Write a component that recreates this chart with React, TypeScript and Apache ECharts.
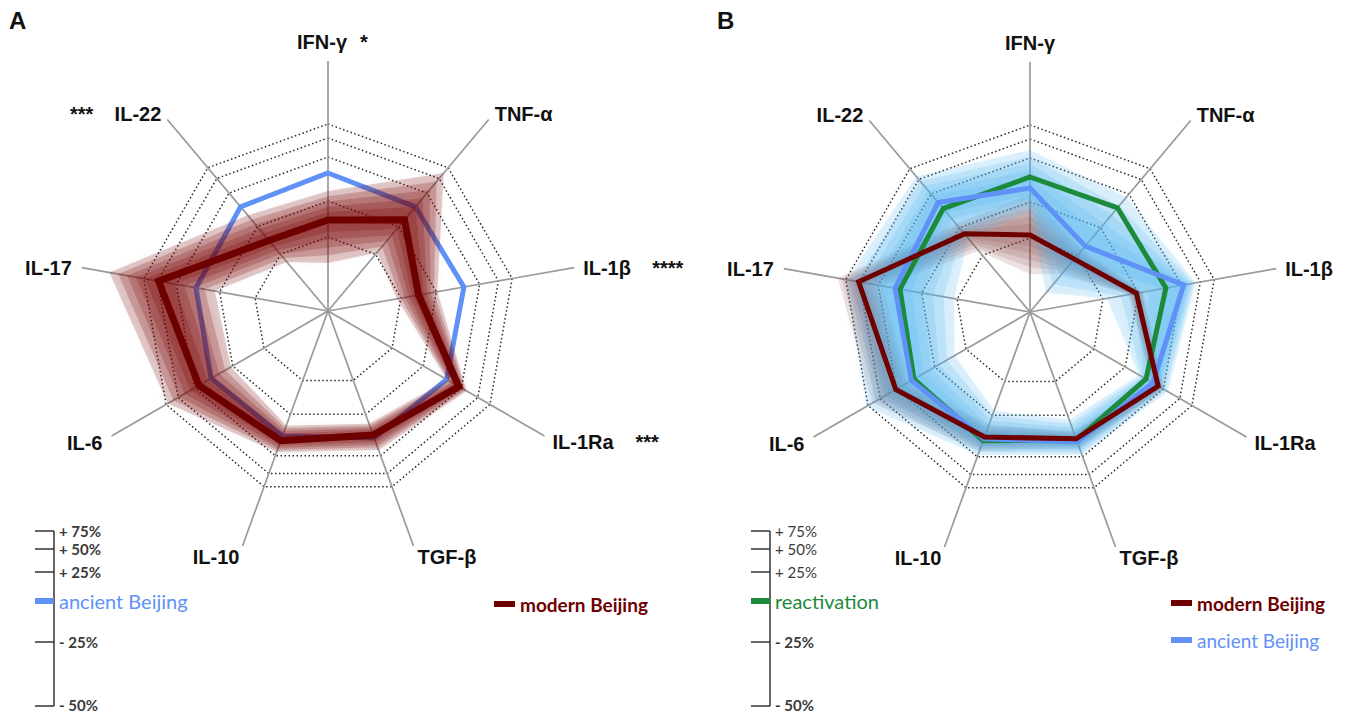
import React, { useEffect, useRef } from 'react';
import * as echarts from 'echarts';

// ---------- data ----------
const categories = ['IFN-γ', 'TNF-α', 'IL-1β', 'IL-1Ra', 'TGF-β', 'IL-10', 'IL-6', 'IL-17', 'IL-22'];
const significanceA = ['*', '', '****', '***', '', '', '', '', '***'];
const ringLevels = [74, 110, 154, 173, 187];
const axisMax = 250;

// Panel A (radial position)
const ancientA = [138, 136, 138, 137, 135, 133, 135, 134, 136];
const modernA = [91, 119, 92, 151, 132, 138, 149, 172, 92];
const modernAUpper = [120, 180, 111, 160, 148, 150, 185, 222, 125];
const modernALower = [48, 76, 70, 138, 120, 122, 112, 115, 64];

// Panel B
const reactivationB = [135, 136, 138, 134, 136, 137, 134, 132, 135];
const ancientB = [124, 86, 156, 142, 138, 135, 137, 137, 143];
const modernB = [77, 69, 108, 148, 135, 133, 155, 174, 102];
const ancientBUpper = [162, 150, 168, 159, 152, 152, 189, 186, 177];
const ancientBLower = [100, 25, 78, 126, 115, 105, 87, 77, 96];
const modernBUpper = [118, 82, 115, 155, 145, 148, 182, 195, 115];
const modernBLower = [38, 50, 100, 140, 127, 120, 140, 150, 80];

const scaleTicks = ['+ 75%', '+ 50%', '+ 25%', '- 25%', '- 50%'];

// ---------- style ----------
const RED = '#6e0000';
const BLUE = '#5f91f7';
const GREEN = '#1b8a3a';
const LABEL_FONT = 'bold 20px "Liberation Sans", Arial, sans-serif';
const N = categories.length;
const angles = categories.map((_, i) => (i * 360) / N);

// label offsets relative to axis end: [dx, dy, align]
const labelOffsets: [number, number, string][] = [
  [0, -19, 'center'],
  [6, -5, 'left'],
  [9, 0, 'left'],
  [8, 6, 'left'],
  [4, 11, 'left'],
  [-3, 11, 'right'],
  [-9, 7, 'right'],
  [-10, 0, 'right'],
  [-6, -5, 'right'],
];
const starOffsets: [number, number, string][] = [
  [32, -19, 'left'],
  [0, 0, 'left'],
  [78, 0, 'left'],
  [91, 6, 'left'],
  [0, 0, 'left'],
  [0, 0, 'left'],
  [0, 0, 'left'],
  [0, 0, 'left'],
  [-74, -5, 'right'],
];

const ringRender = (_p: any, api: any) => ({
  type: 'polygon',
  silent: true,
  shape: { points: angles.map((a) => api.coord([api.value(0), a])) },
  style: { fill: 'none', stroke: '#2a2a2a', lineWidth: 1.5, lineDash: [1.5, 2.5] },
});

const spokeRender = (_p: any, api: any) => {
  const a = api.value(1);
  const p0 = api.coord([0, a]);
  const p1 = api.coord([api.value(0), a]);
  return {
    type: 'line',
    silent: true,
    shape: { x1: p0[0], y1: p0[1], x2: p1[0], y2: p1[1] },
    style: { stroke: '#9a9a9a', lineWidth: 1.7 },
  };
};

const lineRender = (color: string, width: number) => (_p: any, api: any) => ({
  type: 'polygon',
  shape: { points: angles.map((a, i) => api.coord([api.value(i), a])) },
  style: { fill: 'none', stroke: color, lineWidth: width, lineJoin: 'miter' },
});

// band = ring between upper and lower bounds, drawn as soft stacked layers around the mean line
const SPREADS = [1, 0.82, 0.64, 0.46, 0.28];
const bandRender = (rgb: string, alpha: number) => (_p: any, api: any) => {
  const children = SPREADS.map((t) => {
    const up = angles.map((a, i) => {
      const m = api.value(2 * N + i);
      return api.coord([m + t * (api.value(i) - m), a]);
    });
    const lo = angles.map((a, i) => {
      const m = api.value(2 * N + i);
      return api.coord([m - t * (m - api.value(N + i)), a]);
    });
    const pts = [...up, up[0], lo[0], ...lo.slice(1).reverse(), lo[0]];
    return {
      type: 'polygon',
      shape: { points: pts },
      style: {
        fill: `rgba(${rgb},${alpha})`,
        stroke: 'none',
        shadowBlur: 6,
        shadowColor: `rgba(${rgb},${alpha})`,
      },
    };
  });
  return { type: 'group', children };
};

const labelRender = (stars: string[] | null) => (p: any, api: any) => {
  const i = p.dataIndex;
  const end = api.coord([api.value(0), api.value(1)]);
  let [dx, dy, align] = labelOffsets[i];
  if (stars && stars[i] && align === 'center') dx -= 6;
  const children: any[] = [
    {
      type: 'text',
      style: {
        text: categories[i],
        x: end[0] + dx,
        y: end[1] + dy,
        align,
        verticalAlign: 'middle',
        font: LABEL_FONT,
        fill: '#111',
      },
    },
  ];
  if (stars && stars[i]) {
    const [sx, sy, sa] = starOffsets[i];
    children.push({
      type: 'text',
      style: {
        text: stars[i],
        x: end[0] + sx,
        y: end[1] + sy,
        align: sa,
        verticalAlign: 'middle',
        font: LABEL_FONT,
        fill: '#111',
      },
    });
  }
  return { type: 'group', children };
};

function panelSeries(polarIndex: number, lines: any[], labelsStars: string[] | null) {
  return [
    {
      type: 'custom',
      coordinateSystem: 'polar',
      polarIndex,
      renderItem: ringRender,
      data: ringLevels.map((v) => [v]),
      silent: true,
    },
    {
      type: 'custom',
      coordinateSystem: 'polar',
      polarIndex,
      renderItem: spokeRender,
      data: angles.map((a) => [axisMax, a]),
      silent: true,
    },
    ...lines,
    {
      type: 'custom',
      coordinateSystem: 'polar',
      polarIndex,
      renderItem: labelRender(labelsStars),
      data: angles.map((a) => [axisMax, a]),
      silent: true,
    },
  ];
}

const lineSeries = (polarIndex: number, values: number[], color: string, width: number) => ({
  type: 'custom',
  coordinateSystem: 'polar',
  polarIndex,
  renderItem: lineRender(color, width),
  data: [values],
  silent: true,
});

const bandSeries = (polarIndex: number, upper: number[], lower: number[], mean: number[], rgb: string, alpha: number) => ({
  type: 'custom',
  coordinateSystem: 'polar',
  polarIndex,
  renderItem: bandRender(rgb, alpha),
  data: [[...upper, ...lower, ...mean]],
  silent: true,
});

const SCALE_Y = [531, 549, 572, 642, 706];
const ZERO_Y = 601;

function scaleGraphics(x: number, zeroColor: string, zeroText: string, boldUpper: boolean) {
  const els: any[] = [];
  els.push({
    type: 'line',
    shape: { x1: x, y1: SCALE_Y[0], x2: x, y2: SCALE_Y[4] },
    style: { stroke: '#333', lineWidth: 1.5 },
  });
  SCALE_Y.forEach((y, i) => {
    els.push({
      type: 'line',
      shape: { x1: x - 19, y1: y, x2: x, y2: y },
      style: { stroke: '#333', lineWidth: 1.5 },
    });
    els.push({
      type: 'text',
      style: {
        text: scaleTicks[i],
        x: x + 5,
        y: Math.min(y, 705),
        align: 'left',
        verticalAlign: 'middle',
        font: `${boldUpper || i >= 3 ? 'bold' : 'normal'} 15px Lato, "Open Sans", sans-serif`,
        fill: '#3a3a3a',
      },
    });
  });
  els.push({
    type: 'rect',
    shape: { x: x - 19, y: ZERO_Y - 3, width: 19, height: 6 },
    style: { fill: zeroColor },
  });
  els.push({
    type: 'text',
    style: {
      text: zeroText,
      x: x + 5,
      y: ZERO_Y,
      align: 'left',
      verticalAlign: 'middle',
      font: '20px Lato, "Open Sans", sans-serif',
      fill: zeroColor,
    },
  });
  return els;
}

function legendItem(x: number, y: number, color: string, text: string, bold: boolean) {
  return [
    { type: 'rect', shape: { x, y: y - 3, width: 21, height: 6 }, style: { fill: color } },
    {
      type: 'text',
      style: {
        text,
        x: x + 26,
        y,
        align: 'left',
        verticalAlign: 'middle',
        font: `${bold ? 'bold' : 'normal'} 19px Lato, "Open Sans", sans-serif`,
        fill: color,
      },
    },
  ];
}

export default function App() {
  const ref = useRef<HTMLDivElement>(null);
  useEffect(() => {
    if (!ref.current) return;
    const chart = echarts.init(ref.current, undefined, { renderer: 'svg' });
    const option: any = {
      animation: false,
      backgroundColor: '#ffffff',
      polar: [
        { center: [328, 311], radius: 250 },
        { center: [1030, 312], radius: 250 },
      ],
      angleAxis: [0, 1].map((k) => ({
        polarIndex: k,
        type: 'value',
        min: 0,
        max: 360,
        startAngle: 90,
        clockwise: true,
        show: false,
      })),
      radiusAxis: [0, 1].map((k) => ({
        polarIndex: k,
        type: 'value',
        min: 0,
        max: axisMax,
        show: false,
      })),
      series: [
        ...panelSeries(
          0,
          [
            lineSeries(0, ancientA, BLUE, 5),
            bandSeries(0, modernAUpper, modernALower, modernA, '118,12,12', 0.2),
            lineSeries(0, modernA, RED, 7),
          ],
          significanceA
        ),
        ...panelSeries(
          1,
          [
            bandSeries(1, modernBUpper, modernBLower, modernB, '125,35,35', 0.13),
            bandSeries(1, ancientBUpper, ancientBLower, ancientB, '80,178,240', 0.18),
            lineSeries(1, reactivationB, GREEN, 5),
            lineSeries(1, ancientB, BLUE, 5),
            lineSeries(1, modernB, RED, 5),
          ],
          null
        ),
      ],
      graphic: [
        {
          type: 'text',
          style: { text: 'A', x: 9, y: 20, verticalAlign: 'middle', font: 'bold 24px "Liberation Sans", Arial, sans-serif', fill: '#111' },
        },
        {
          type: 'text',
          style: { text: 'B', x: 717, y: 20, verticalAlign: 'middle', font: 'bold 24px "Liberation Sans", Arial, sans-serif', fill: '#111' },
        },
        ...scaleGraphics(54, BLUE, 'ancient Beijing', true),
        ...scaleGraphics(770, GREEN, 'reactivation', false),
        ...legendItem(494, 604, RED, 'modern Beijing', true),
        ...legendItem(1171, 603, RED, 'modern Beijing', true),
        ...legendItem(1171, 640, BLUE, 'ancient Beijing', false),
      ],
    };
    chart.setOption(option);
    return () => chart.dispose();
  }, []);
  return (
    <div
      ref={ref}
      style={{ position: 'absolute', left: 0, top: 0, width: 1350, height: 714, background: '#fff' }}
    />
  );
}
